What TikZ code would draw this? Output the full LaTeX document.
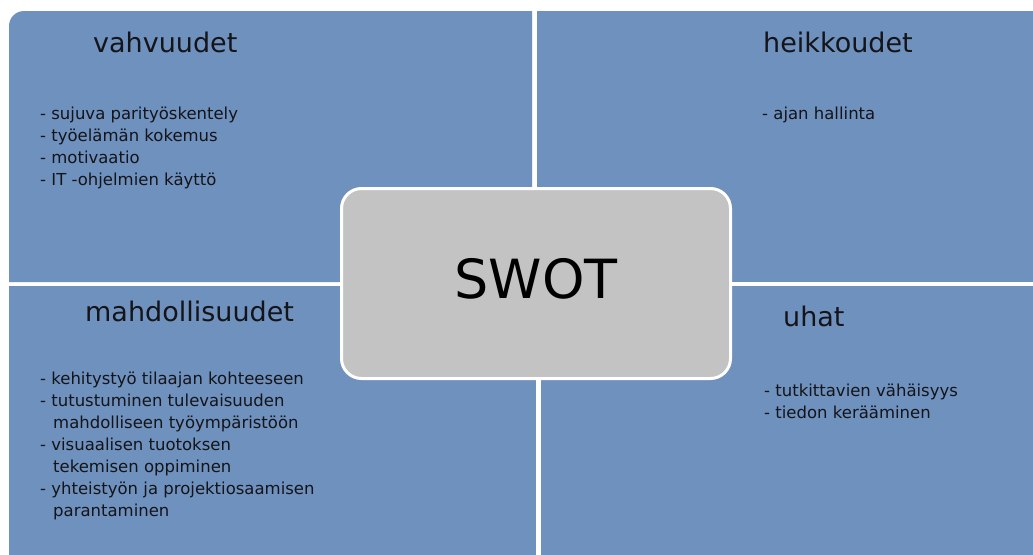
\documentclass[tikz,border=0pt]{standalone}
\usepackage{fontspec}
\setmainfont{DejaVu Sans}
\usetikzlibrary{positioning}
\definecolor{swotblue}{RGB}{111,145,190}
\definecolor{swotgray}{RGB}{195,195,195}
\definecolor{swottext}{RGB}{20,20,25}

\begin{document}
\begin{tikzpicture}[x=1pt, y=-1pt,
    quad/.style={fill=swotblue},
    heading/.style={anchor=base west, inner sep=0pt, text=swottext, font=\fontsize{27}{32}\selectfont},
    itemtext/.style={anchor=north west, align=left, inner sep=0pt, text=swottext, font=\fontsize{16.5}{22}\selectfont},
    hub/.style={rectangle, rounded corners=20pt, draw=white, line width=3pt, fill=swotgray,
        minimum width=389pt, minimum height=190pt, text depth=10pt, font=\fontsize{54}{60}\selectfont}]

\useasboundingbox (0,0) rectangle (1033,554);
\clip (0,0) rectangle (1033,554);

% Quadrants
\fill[quad] (9,282) [rounded corners=15pt] -- (9,11) [sharp corners] -- (532,11) -- (532,282) -- cycle;
\fill[quad] (537,11) rectangle (1045,282);
\fill[quad] (9,286) rectangle (536,565);
\fill[quad] (541,286) rectangle (1045,565);

% Headings
\node[heading] (strengths) at (93,52) {vahvuudet};
\node[heading] (weaknesses) at (763,52) {heikkoudet};
\node[heading] (opportunities) at (85,321) {mahdollisuudet};
\node[heading] (threats) at (783,326) {uhat};

% Items
\node[itemtext] (strengthlist) at (40,107) {- sujuva parityöskentely\\- työelämän kokemus\\- motivaatio\\- IT -ohjelmien käyttö};
\node[itemtext] (weaknesslist) at (762,107) {- ajan hallinta};
\node[itemtext] (opportunitylist) at (40,372) {- kehitystyö tilaajan kohteeseen\\- tutustuminen tulevaisuuden\\\hspace*{13pt}mahdolliseen työympäristöön\\- visuaalisen tuotoksen\\\hspace*{13pt}tekemisen oppiminen\\- yhteistyön ja projektiosaamisen\\\hspace*{13pt}parantaminen};
\node[itemtext] (threatlist) at (764,384) {- tutkittavien vähäisyys\\- tiedon kerääminen};

% Centre
\node[hub] (swot) at (536,283.5) {SWOT};
\end{tikzpicture}
\end{document}
